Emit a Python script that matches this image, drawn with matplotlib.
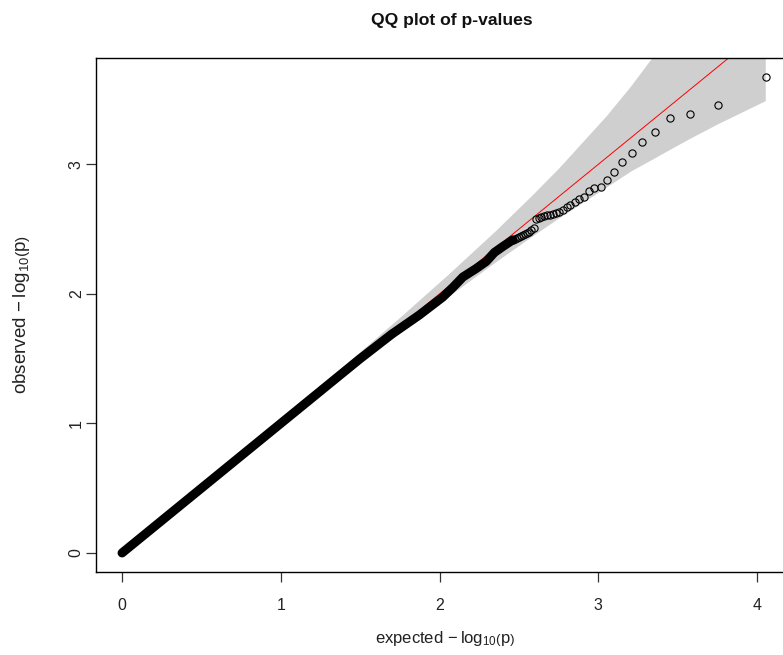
import matplotlib
matplotlib.use("Agg")
import matplotlib.pyplot as plt

plt.rcParams['font.family'] = ['Liberation Sans', 'DejaVu Sans']
plt.rcParams['mathtext.fontset'] = 'custom'
plt.rcParams['mathtext.rm'] = 'Liberation Sans'
plt.rcParams['mathtext.it'] = 'Liberation Sans:italic'

# ---- data ----
# confidence band (expected, lower, upper)
band_x = [0.0, 0.055, 0.578, 1.055, 1.356, 1.754, 2.055, 2.356, 2.578, 2.754,
          3.055, 3.210, 3.356, 3.453, 3.578, 3.754, 4.055]
band_lo = [0.0, 0.047, 0.562, 1.028, 1.319, 1.696, 1.974, 2.244, 2.435, 2.583,
           2.822, 2.947, 3.045, 3.112, 3.196, 3.309, 3.488]
band_hi = [0.003, 0.064, 0.594, 1.083, 1.395, 1.817, 2.145, 2.485, 2.750, 2.968,
           3.374, 3.606, 3.845, 4.018, 4.263, 4.671, 5.652]

# dense bulk of points (overlapping circles form a solid band)
dense_x = [0.0, 0.5, 1.0, 1.5, 1.7, 1.8, 1.874, 1.94, 2.02, 2.084, 2.147,
           2.23, 2.294, 2.346, 2.398, 2.462]
dense_y = [0.0, 0.5, 1.0, 1.5, 1.69, 1.775, 1.838, 1.9, 1.975, 2.05, 2.13,
           2.195, 2.25, 2.32, 2.365, 2.417]

# individually visible tail points
tail_x = [4.055, 3.754, 3.578, 3.453, 3.356, 3.277, 3.210, 3.152, 3.101, 3.055,
          3.014, 2.976, 2.941, 2.909, 2.879, 2.851, 2.825, 2.800, 2.776, 2.754,
          2.733, 2.713, 2.694, 2.676, 2.657, 2.640, 2.624, 2.608, 2.593, 2.578,
          2.564, 2.550, 2.537, 2.524, 2.511, 2.498, 2.486, 2.474, 2.462]
tail_y = [3.678, 3.459, 3.392, 3.359, 3.248, 3.174, 3.091, 3.017, 2.940, 2.880,
          2.822, 2.821, 2.795, 2.751, 2.731, 2.713, 2.690, 2.670, 2.650, 2.636,
          2.625, 2.617, 2.612, 2.607, 2.600, 2.592, 2.585, 2.579, 2.510, 2.495,
          2.478, 2.468, 2.462, 2.456, 2.450, 2.442, 2.433, 2.425, 2.417]

ref_x = [0.0, 5.0]
ref_y = [0.0, 5.0]

x_ticks = [0, 1, 2, 3, 4]
y_ticks = [0, 1, 2, 3]

title = "QQ plot of p-values"
xlabel = r"expected$\,-\mathrm{log}_{10}\left(\mathrm{p}\right)$"
ylabel = r"observed$\,-\mathrm{log}_{10}\left(\mathrm{p}\right)$"

# ---- figure ----
W, H = 783, 655
fig = plt.figure(figsize=(W / 100, H / 100), dpi=100)
left, right, top, bottom = 96.3, 791.5, 57.5, 572.0
ax = fig.add_axes([left / W, 1 - bottom / H, (right - left) / W, (bottom - top) / H])
ax.set_xlim(-0.1622, 4.2172)
ax.set_ylim(-0.1471, 3.8249)

ax.fill_between(band_x, band_lo, band_hi, color='#cfcfcf', linewidth=0, zorder=1)
ax.plot(ref_x, ref_y, color='red', linewidth=0.7, zorder=2)
ax.plot(dense_x, dense_y, color='black', linewidth=6.5,
        solid_capstyle='round', solid_joinstyle='round', zorder=3)
ax.plot(tail_x, tail_y, linestyle='none', marker='o', markersize=5.2,
        markerfacecolor='none', markeredgecolor='black', markeredgewidth=0.8, zorder=4)

for s in ['left', 'bottom', 'top', 'right']:
    ax.spines[s].set_linewidth(1.0)
    ax.spines[s].set_color('black')

ax.set_xticks(x_ticks)
ax.set_yticks(y_ticks)
ax.set_xticklabels([str(t) for t in x_ticks])
ax.set_yticklabels([str(t) for t in y_ticks], rotation=90, va='center')
ax.tick_params(axis='both', direction='out', length=7.5, width=0.9,
               labelsize=11.5, color='#333333', labelcolor='#222222')
ax.tick_params(axis='x', pad=11)
ax.tick_params(axis='y', pad=1.5)

fig.text(452 / W, 1 - 20 / H, title, ha='center', va='center',
         fontsize=12.6, fontweight='bold', color='#111111')
fig.text(445 / W, 1 - 638 / H, xlabel, ha='center', va='center', fontsize=12,
         color='#222222')
fig.text(22 / W, 1 - 315 / H, ylabel, ha='center', va='center', rotation=90,
         fontsize=13.5, color='#222222')

fig.savefig('out.png', dpi=100)
